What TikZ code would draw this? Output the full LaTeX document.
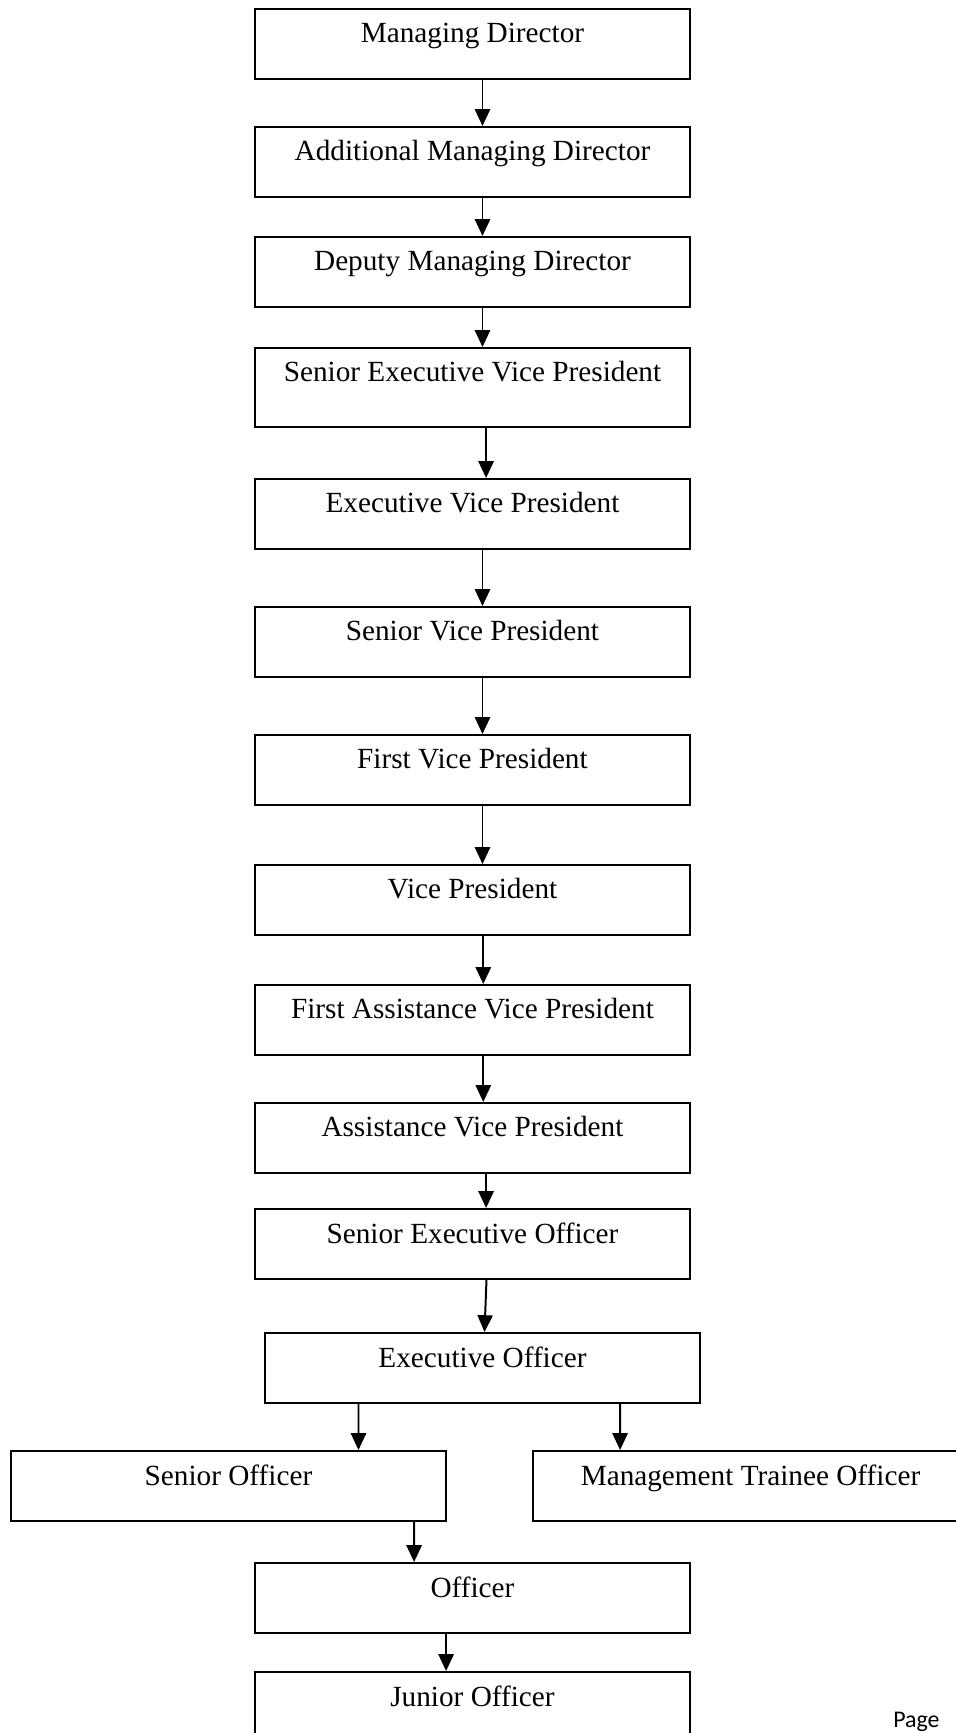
\documentclass[tikz,border=0pt]{standalone}
\usepackage{fontspec}
\setmainfont[Ligatures=NoCommon]{Liberation Serif}
\newfontfamily\pagefont{Carlito}
\usetikzlibrary{arrows.meta}

\tikzset{
    rank/.style={draw, line width=1.4pt, inner sep=0pt, minimum width=10.875cm,
        text height=0.85cm, text depth=0.9cm, anchor=north west,
        font=\fontsize{20.8pt}{25pt}\selectfont},
    link/.style={line width=1.4pt, -{Triangle[length=0.42cm,width=0.38cm]}}
}

\begin{document}
\begin{tikzpicture}
        % Page area
        \clip (0,0) rectangle (23.9,-43.325);
        % Draw ranks
        \node[rank] (md) at (6.35,-0.2) {Managing Director};
        \node[rank] (amd) at (6.35,-3.15) {Additional Managing Director};
        \node[rank] (dmd) at (6.35,-5.9) {Deputy Managing Director};
        \node[rank,text depth=1.125cm] (sevp) at (6.35,-8.675) {Senior Executive Vice President};
        \node[rank] (evp) at (6.35,-11.95) {Executive Vice President};
        \node[rank] (svp) at (6.35,-15.15) {Senior Vice President};
        \node[rank] (fvp) at (6.35,-18.35) {First Vice President};
        \node[rank] (vp) at (6.35,-21.6) {Vice President};
        \node[rank] (favp) at (6.35,-24.6) {First Assistance Vice President};
        \node[rank] (avp) at (6.35,-27.55) {Assistance Vice President};
        \node[rank] (seo) at (6.35,-30.2) {Senior Executive Officer};
        \node[rank] (eo) at (6.6,-33.3) {Executive Officer};
        \node[rank] (so) at (0.25,-36.25) {Senior Officer};
        \node[rank] (mto) at (13.3,-36.25) {Management Trainee Officer};
        \node[rank] (off) at (6.35,-39.05) {Officer};
        \node[rank] (jo) at (6.35,-41.775) {Junior Officer};
        % Draw arrows
        \draw[link] ([xshift=0.25cm]md.south) -- ([xshift=0.25cm]amd.north);
        \draw[link] ([xshift=0.25cm]amd.south) -- ([xshift=0.25cm]dmd.north);
        \draw[link] ([xshift=0.25cm]dmd.south) -- ([xshift=0.25cm]sevp.north);
        \draw[link] ([xshift=0.34cm]sevp.south) -- ([xshift=0.34cm]evp.north);
        \draw[link] ([xshift=0.25cm]evp.south) -- ([xshift=0.25cm]svp.north);
        \draw[link] ([xshift=0.25cm]svp.south) -- ([xshift=0.25cm]fvp.north);
        \draw[link] ([xshift=0.25cm]fvp.south) -- ([xshift=0.25cm]vp.north);
        \draw[link] ([xshift=0.27cm]vp.south) -- ([xshift=0.27cm]favp.north);
        \draw[link] ([xshift=0.27cm]favp.south) -- ([xshift=0.27cm]avp.north);
        \draw[link] ([xshift=0.34cm]avp.south) -- ([xshift=0.34cm]seo.north);
        \draw[link] ([xshift=0.35cm]seo.south) -- ([xshift=0.05cm]eo.north);
        % Draw branch
        \draw[link] ([xshift=-3.1cm]eo.south) -- ([xshift=3.25cm]so.north);
        \draw[link] ([xshift=3.44cm]eo.south) -- ([xshift=-3.26cm]mto.north);
        \draw[link] ([xshift=4.64cm]so.south) -- ([xshift=-1.46cm]off.north);
        \draw[link] ([xshift=-0.66cm]off.south) -- ([xshift=-0.66cm]jo.north);
        % Draw page footer
        \node[anchor=base west, inner sep=0pt, font=\pagefont\fontsize{17pt}{20pt}\selectfont] (page) at (22.325,-43.175) {Page};
\end{tikzpicture}
\end{document}
